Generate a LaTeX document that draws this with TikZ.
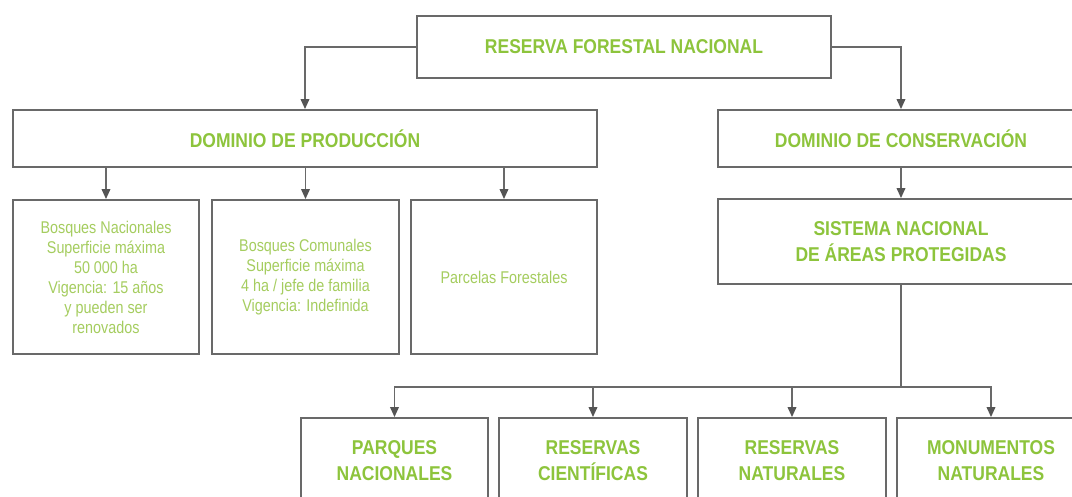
\documentclass[tikz,border=0pt]{standalone}
\usepackage{fontspec}
\setmainfont{Liberation Sans}
\newfontfamily\headfont{Liberation Sans}[FakeStretch=0.875]
\newfontfamily\bodyfont{Liberation Sans}[FakeStretch=0.845]
\usetikzlibrary{arrows.meta}
\definecolor{linegray}{RGB}{105,105,105}
\definecolor{arrowgray}{RGB}{85,85,85}
\definecolor{headgreen}{RGB}{141,196,60}
\definecolor{bodygreen}{RGB}{165,205,95}
\tikzset{
  box/.style={draw=linegray, line width=1.8pt, fill=white, inner sep=0pt, align=center},
  headbox/.style={box, text=headgreen, font=\headfont\bfseries\fontsize{20}{26}\selectfont},
  bodybox/.style={box, text=bodygreen, font=\bodyfont\fontsize{17}{20}\selectfont},
  conn/.style={draw=linegray, line width=1.8pt},
  arr/.style={conn, -{Triangle[length=10pt,width=8.5pt,color=arrowgray]}}
}
\begin{document}
\begin{tikzpicture}[x=1pt,y=-1pt]
\useasboundingbox (0,0) rectangle (1072,496);
\clip (0,0) rectangle (1072,496);
\fill[white] (0,0) rectangle (1072,496);
% nodes
\node[headbox, minimum width=414pt, minimum height=62pt] (rfn) at (624,47) {RESERVA FORESTAL NACIONAL};
\node[headbox, minimum width=584pt, minimum height=57pt] (dp) at (305,138.5) {DOMINIO DE PRODUCCIÓN};
\node[headbox, minimum width=366pt, minimum height=57pt] (dc) at (901,138.5) {DOMINIO DE CONSERVACIÓN};
\node[headbox, minimum width=366pt, minimum height=85pt] (snap) at (901,241.5) {SISTEMA NACIONAL\\DE ÁREAS PROTEGIDAS};
\node[bodybox, minimum width=186pt, minimum height=154pt] (bn) at (106,277) {Bosques Nacionales\\Superficie máxima\\50 000 ha\\Vigencia: 15 años\\y pueden ser\\renovados};
\node[bodybox, minimum width=187pt, minimum height=154pt] (bc) at (305.5,277) {Bosques Comunales\\Superficie máxima\\4 ha / jefe de familia\\Vigencia: Indefinida};
\node[bodybox, minimum width=186pt, minimum height=154pt] (pf) at (504,277) {Parcelas Forestales};
\node[headbox, minimum width=187pt, minimum height=85pt] (pn) at (394.5,460.5) {PARQUES\\NACIONALES};
\node[headbox, minimum width=188pt, minimum height=85pt] (rc) at (593,460.5) {RESERVAS\\CIENTÍFICAS};
\node[headbox, minimum width=188pt, minimum height=85pt] (rn) at (792,460.5) {RESERVAS\\NATURALES};
\node[headbox, minimum width=188pt, minimum height=85pt] (mn) at (991,460.5) {MONUMENTOS\\NATURALES};
\coordinate (j) at (901,387);
% connectors
\draw[arr] (rfn.west) -| (dp.north);
\draw[arr] (rfn.east) -| (dc.north);
\draw[arr] (bn.north |- dp.south) -- (bn.north);
\draw[arr] (bc.north |- dp.south) -- (bc.north);
\draw[arr] (pf.north |- dp.south) -- (pf.north);
\draw[arr] (dc.south) -- (snap.north);
\draw[conn] (snap.south) -- (j);
\draw[arr] (j) -| (pn.north);
\draw[arr] (j) -| (rc.north);
\draw[arr] (j) -| (rn.north);
\draw[arr] (j) -| (mn.north);
\end{tikzpicture}
\end{document}
